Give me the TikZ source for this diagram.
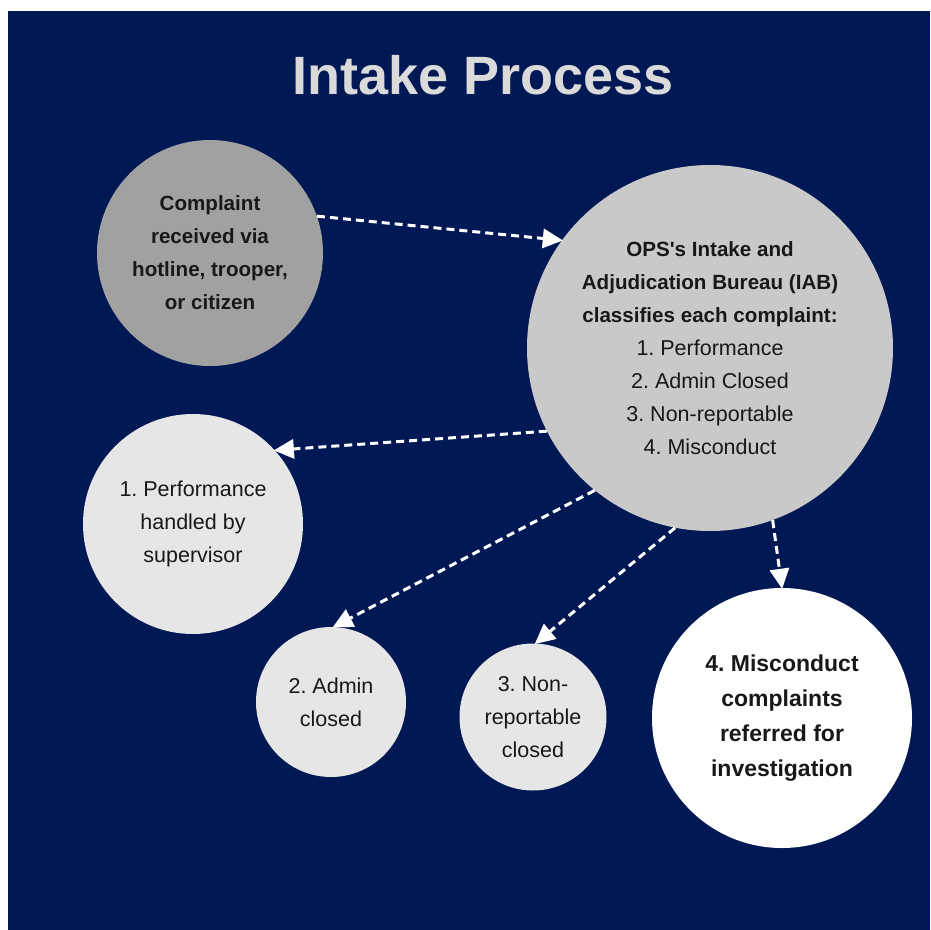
\documentclass[tikz,border=0pt]{standalone}
\usepackage{fontspec}
\setmainfont{Liberation Sans}
\usetikzlibrary{arrows.meta}
\frenchspacing
\definecolor{navy}{RGB}{0,24,84}
\definecolor{titlegray}{RGB}{218,218,218}
\definecolor{darkcircle}{RGB}{161,161,161}
\definecolor{midcircle}{RGB}{201,201,201}
\definecolor{lightcircle}{RGB}{230,230,230}
\definecolor{inktext}{RGB}{24,24,24}
\begin{document}
\begin{tikzpicture}[x=1pt,y=-1pt,
  bubble/.style={circle,draw=none,inner sep=0pt,align=center,text=inktext,
    font=\fontsize{21.5}{33}\selectfont},
  strong/.style={font=\fontsize{20.6}{33}\selectfont\bfseries},
  flow/.style={draw=white,line width=3pt,dash pattern=on 8pt off 5pt,
    -{Triangle[length=20pt,width=20pt,fill=white,line width=0pt]},
    shorten >=-1pt}]
  % page and background panel
  \useasboundingbox (0,0) rectangle (930,930);
  \fill[white] (0,0) rectangle (930,930);
  \fill[navy] (8,11) rectangle (930,930);

  % heading
  \node[text=titlegray,font=\fontsize{54}{60}\selectfont\bfseries] (title) at (483,75) {Intake Process};

  % process stages
  \node[bubble,strong,fill=darkcircle,minimum size=226pt] (recv) at (210,253)
    {Complaint\\received via\\hotline, trooper,\\or citizen};
  \node[bubble,fill=midcircle,minimum size=366pt] (iab) at (710,348)
    {{\fontsize{20.6}{33}\selectfont\bfseries OPS\textquotesingle s Intake and}\\
     {\fontsize{20.6}{33}\selectfont\bfseries Adjudication Bureau (IAB)}\\
     {\fontsize{20.6}{33}\selectfont\bfseries classifies each complaint:}\\
     1. Performance\\2. Admin Closed\\3. Non-reportable\\4. Misconduct};
  \node[bubble,fill=lightcircle,minimum size=220pt] (perf) at (193,524)
    {1. Performance\\handled by\\supervisor};
  \node[bubble,fill=lightcircle,minimum size=150pt] (admin) at (331,702)
    {2. Admin\\closed};
  \node[bubble,fill=lightcircle,minimum size=147pt] (nonrep) at (533,717)
    {3. Non-\\reportable\\closed};
  \node[bubble,fill=white,minimum size=260pt,font=\fontsize{23}{35}\selectfont\bfseries] (misc) at (782,718)
    {4. Misconduct\\complaints\\referred for\\investigation};

  % connectors
  \draw[flow] (recv.19.7) -- (iab.144.4);
  \draw[flow] (iab.207.3) -- (perf.42.1);
  \draw[flow] (iab.231.3) -- (admin.88.5);
  \draw[flow] (iab.259.7) -- (nonrep.88.5);
  \draw[flow] (iab.290.7) -- (misc.90);
\end{tikzpicture}
\end{document}
